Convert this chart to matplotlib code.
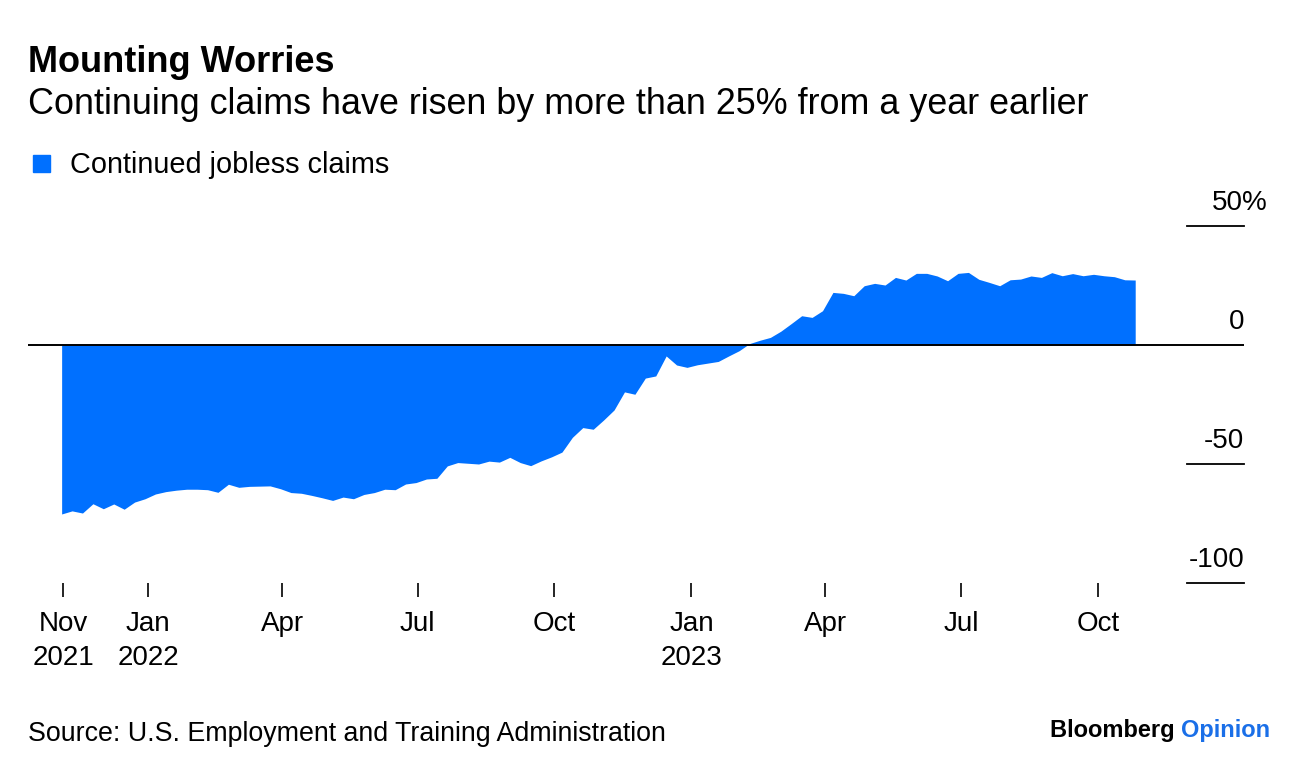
import matplotlib
matplotlib.use("Agg")
import matplotlib.pyplot as plt
import matplotlib.dates as mdates
import numpy as np
import pandas as pd

plt.rcParams['font.family'] = ['Liberation Sans', 'DejaVu Sans']

# ---- data ----
start_date = "2021-11-04"
n_weeks = 104
claims_yoy = [
    -71.0, -69.7, -70.6, -66.7, -68.8, -66.8, -69.0, -66.0, -64.6, -62.6,
    -61.6, -61.0, -60.6, -60.6, -60.8, -61.9, -58.5, -59.8, -59.4, -59.3,
    -59.2, -60.4, -62.0, -62.3, -63.2, -64.2, -65.3, -63.9, -64.6, -62.8,
    -62.0, -60.6, -60.8, -58.4, -57.8, -56.3, -56.0, -50.8, -49.4, -49.7,
    -50.0, -48.8, -49.2, -47.2, -49.4, -50.7, -48.7, -47.0, -45.0, -38.8,
    -34.7, -35.4, -31.5, -27.3, -19.7, -20.7, -13.9, -13.0, -4.6, -8.4,
    -9.4, -8.3, -7.6, -6.9, -4.6, -2.4, 0.6, 2.0, 3.2, 5.8,
    9.0, 12.3, 11.6, 14.4, 22.1, 21.7, 20.7, 24.9, 25.9, 25.2,
    28.4, 27.3, 30.1, 30.1, 29.0, 27.0, 30.1, 30.5, 27.6, 26.3,
    24.9, 27.4, 27.7, 29.0, 28.4, 30.4, 29.1, 30.0, 29.1, 29.7,
    29.1, 28.7, 27.4, 27.3,
]
dates = pd.date_range(start_date, periods=n_weeks, freq="7D")

y_ticks = [50, 0, -50, -100]
y_tick_labels = ["50%", "0", "-50", "-100"]
x_tick_dates = ["2021-11-05", "2022-01-01", "2022-04-01", "2022-07-01", "2022-10-01",
                "2023-01-01", "2023-04-01", "2023-07-01", "2023-10-01"]
x_tick_labels = ["Nov\n2021", "Jan\n2022", "Apr", "Jul", "Oct", "Jan\n2023", "Apr", "Jul", "Oct"]

title = "Mounting Worries"
subtitle = "Continuing claims have risen by more than 25% from a year earlier"
legend_label = "Continued jobless claims"
source = "Source: U.S. Employment and Training Administration"

BLUE = "#0070FF"

# ---- figure ----
W, H = 1296, 774
fig = plt.figure(figsize=(W / 100, H / 100), dpi=100)

def fx(px):
    return px / W

def fy(py):
    return 1 - py / H

ax_left, ax_right, ax_top, ax_bottom = 28, 1244, 180, 583
ax = fig.add_axes([fx(ax_left), fy(ax_bottom), fx(ax_right - ax_left), fy(ax_top) - fy(ax_bottom)])

# scale: 0 at pixel 345, 2.38 px per unit
px_per_unit = 2.38
ax.set_ylim((345 - ax_bottom) / px_per_unit, (345 - ax_top) / px_per_unit)

jan22 = mdates.date2num(pd.Timestamp("2022-01-01"))
px_per_day = 1.489
ax.set_xlim(jan22 - (148 - ax_left) / px_per_day, jan22 + (ax_right - 148) / px_per_day)

vals = np.array(claims_yoy)
ax.fill_between(dates, 0, vals, color=BLUE, linewidth=0, zorder=2)
ax.axhline(0, color="black", linewidth=1.4, zorder=3)

for s in ax.spines.values():
    s.set_visible(False)
ax.set_yticks([])

# y tick lines and labels (right side)
xmin_frac = (1187 - ax_left) / (ax_right - ax_left)
for v, lab in zip(y_ticks, y_tick_labels):
    if v != 0:
        ax.axhline(v, xmin=xmin_frac, xmax=1.0, color="black", linewidth=1.3, clip_on=False, zorder=3)
    ax.annotate(lab, xy=(1.0, v), xycoords=("axes fraction", "data"),
                xytext=(17 if lab.endswith("%") else 0, 7.5), textcoords="offset points",
                ha="right", va="bottom", fontsize=20, color="black")

ax.set_xticks([mdates.date2num(pd.Timestamp(d)) for d in x_tick_dates])
ax.set_xticklabels(x_tick_labels, fontsize=20, linespacing=1.4)
ax.tick_params(axis="x", direction="out", length=10, width=1.2, pad=10, color="black")

# titles
fig.text(fx(28), fy(63), title, fontsize=26, fontweight="bold", va="center", ha="left")
fig.text(fx(28), fy(105), subtitle, fontsize=25.8, va="center", ha="left")

# legend
fig.patches.append(plt.Rectangle((fx(33), fy(172)), fx(17), fy(155) - fy(172),
                                 transform=fig.transFigure, color=BLUE, figure=fig))
fig.text(fx(70), fy(165), legend_label, fontsize=20.8, va="center", ha="left")

# source
fig.text(fx(28), fy(734), source, fontsize=19.3, va="center", ha="left")

# logo text
t1 = fig.text(fx(1050), fy(731), "Bloomberg ", fontsize=17, fontweight="bold", va="center", ha="left")
fig.canvas.draw()
bb = t1.get_window_extent()
fig.text(bb.x1 / W, fy(731), "Opinion", fontsize=17, fontweight="bold", color="#1a6fe8", va="center", ha="left")

fig.savefig("out.png", dpi=100)
